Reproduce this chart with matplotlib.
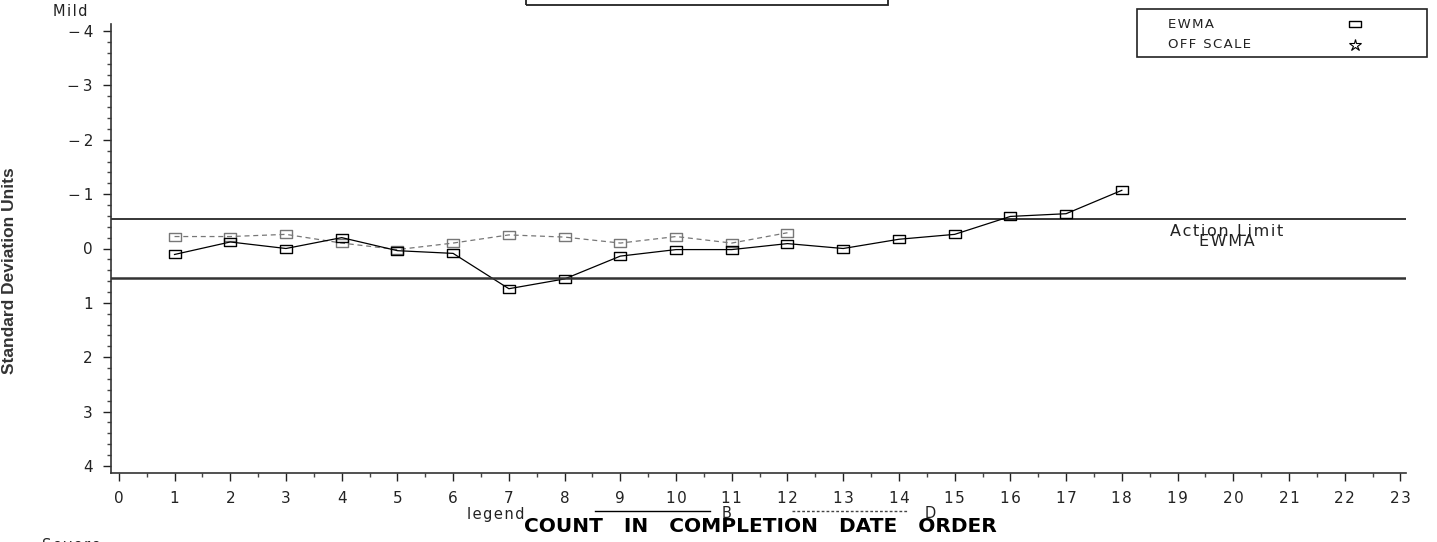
import matplotlib
matplotlib.use('Agg')
import matplotlib.pyplot as plt
import numpy as np
from matplotlib.path import Path
from matplotlib.patches import Rectangle
from matplotlib.lines import Line2D
from matplotlib.ticker import MultipleLocator

# EWMA values in standard deviation units, by completion order
count_b = [1, 2, 3, 4, 5, 6, 7, 8, 9, 10, 11, 12, 13, 14, 15, 16, 17, 18]
ewma_b = [0.11, -0.12, 0.00, -0.20, 0.04, 0.09, 0.74, 0.56, 0.14, 0.02,
          0.02, -0.09, 0.00, -0.17, -0.26, -0.59, -0.64, -1.07]
count_d = [1, 2, 3, 4, 5, 6, 7, 8, 9, 10, 11, 12]
ewma_d = [-0.22, -0.22, -0.26, -0.10, 0.02, -0.10, -0.25, -0.21, -0.10,
          -0.22, -0.10, -0.29]
action_limits = [-0.55, 0.55]
y_ticks = [-4, -3, -2, -1, 0, 1, 2, 3, 4]
x_ticks = list(range(0, 24))

W, H = 1437, 542
fig = plt.figure(figsize=(W / 100, H / 100), dpi=100)
ax = fig.add_axes([111 / W, 1 - 473 / H, (1406 - 111) / W, (473 - 24) / H])


def spread(s):
    # open up letter spacing with hair spaces
    return '\u200a'.join(s)


def px(x, y):
    # pixel position from the top-left corner -> figure fraction
    return x / W, 1 - y / H


# wide, flat box used as the plot symbol
box = Path([(-1, -0.58), (1, -0.58), (1, 0.58), (-1, 0.58), (-1, -0.58)],
           [Path.MOVETO, Path.LINETO, Path.LINETO, Path.LINETO, Path.CLOSEPOLY])

txt = dict(family='DejaVu Sans', color='#222222')

ax.plot(count_d, ewma_d, color='#777777', lw=0.9, ls=(0, (4, 3)),
        marker=box, ms=8.8, mfc='none', mec='#777777', mew=1.0)
ax.plot(count_b, ewma_b, color='black', lw=0.9,
        marker=box, ms=8.8, mfc='none', mec='black', mew=1.0)

ax.axhline(action_limits[0], color='black', lw=1.1)
ax.axhline(action_limits[1], color='#333333', lw=1.8)
fig.text(*px(1227, 232), spread('Action Limit'), ha='center', va='center',
         fontsize=11.5, **txt)
fig.text(*px(1227, 242), spread('EWMA'), ha='center', va='center',
         fontsize=11.5, **txt)

ax.set_xlim(-0.14, 23.1)
ax.set_ylim(4.13, -4.13)
ax.set_xticks(x_ticks)
ax.set_xticklabels([spread(str(v)) for v in x_ticks], fontsize=11, **txt)
ax.xaxis.set_minor_locator(MultipleLocator(0.5))
ax.set_yticks(y_ticks)
ax.set_yticklabels([('\u2212\u2009' + str(-v)) if v < 0 else str(v) for v in y_ticks],
                   fontsize=11, **txt)
ax.yaxis.set_minor_locator(MultipleLocator(0.2))
ax.tick_params(which='major', length=6, width=1, color='#222222', pad=7)
ax.tick_params(which='minor', length=3, width=1, color='#444444')
for s in ['top', 'right']:
    ax.spines[s].set_visible(False)
for s in ['left', 'bottom']:
    ax.spines[s].set_color('#333333')
    ax.spines[s].set_linewidth(1.2)

ax.set_ylabel('Standard Deviation Units', family='Liberation Sans',
              fontweight='bold', fontsize=12.5, color='#333333')
ax.yaxis.set_label_coords(17 / W, 0.5, transform=fig.transFigure)

fig.text(*px(53, 12), spread('Mild'), ha='left', va='center', fontsize=10.5, **txt)
fig.text(*px(42, 545), spread('Severe'), ha='left', va='center', fontsize=10.5, **txt)

# bottom line-style key and axis title
fig.text(*px(467, 515), spread('legend'), ha='left', va='center', fontsize=10.5, **txt)
fig.add_artist(Line2D([595 / W, 710 / W], [1 - 511 / H] * 2, color='black', lw=1.0))
fig.text(*px(722, 513), 'B', ha='left', va='center', fontsize=10.5, **txt)
fig.add_artist(Line2D([792 / W, 907 / W], [1 - 511 / H] * 2, color='#444444',
                      lw=1.0, ls=(0, (2, 1.5))))
fig.text(*px(925, 513), 'D', ha='left', va='center', fontsize=10.5, **txt)
fig.text(*px(760, 527), 'COUNT   IN   COMPLETION   DATE   ORDER', ha='center',
         va='center', fontsize=14.5, fontweight='heavy', family='DejaVu Sans', color='black')

# symbol key, top right
fig.add_artist(Rectangle(px(1137, 57), 290 / W, 48 / H, fill=False,
                         ec='#222222', lw=1.2, transform=fig.transFigure))
fig.text(*px(1168, 24), spread('EWMA'), ha='left', va='center', fontsize=9.5, **txt)
fig.text(*px(1168, 45), spread('OFF SCALE'), ha='left', va='center', fontsize=9.5, **txt)
fig.add_artist(Line2D([1355 / W], [1 - 24 / H], marker=box, ms=8, mfc='none',
                      mec='black', mew=1.0, ls='none'))
fig.add_artist(Line2D([1355 / W], [1 - 45 / H], marker='*', ms=9, mfc='none',
                      mec='black', mew=0.8, ls='none'))

# title frame at the top edge
fig.add_artist(Rectangle(px(526, 5), 362 / W, 30 / H, fill=False,
                         ec='#222222', lw=1.3, transform=fig.transFigure))

fig.savefig('out.png', dpi=100)
